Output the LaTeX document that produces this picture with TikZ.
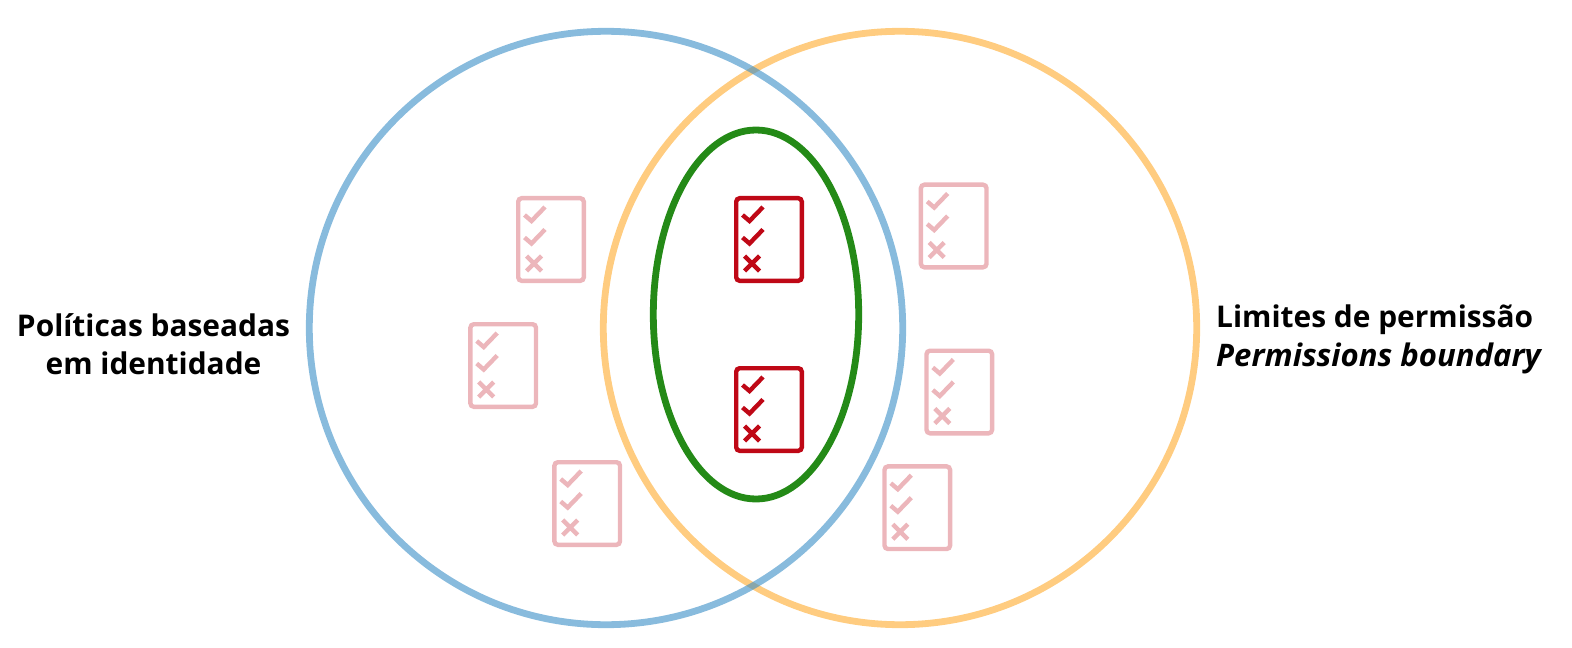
\documentclass[tikz,border=0pt]{standalone}
\usepackage{fontspec}
\usetikzlibrary{shapes.geometric}
\setmainfont{Open Sans}
\definecolor{blueline}{HTML}{398EC6}
\definecolor{orangeline}{HTML}{FFCC80}
\definecolor{greenline}{HTML}{248A17}
\definecolor{docred}{HTML}{BF0816}
\definecolor{docpale}{HTML}{ECB6BB}
\tikzset{
  x=1bp,y=-1bp,
  blueset/.style={draw=blueline,draw opacity=0.6,line width=6.8bp,circle,minimum size=593.4bp,inner sep=0pt},
  orangeset/.style={draw=orangeline,line width=6.8bp,circle,minimum size=593.4bp,inner sep=0pt},
  greenset/.style={draw=greenline,line width=6.8bp,ellipse,minimum width=205.4bp,minimum height=369bp,inner sep=0pt},
  setlabel/.style={font=\bfseries\fontsize{30pt}{38.5pt}\selectfont,inner sep=0pt},
  pics/docicon/.style={code={
    \draw[line width=4.4bp,rounded corners=3.5bp] (2.2,2.2) rectangle (67.8,84.8);
    \draw[line width=4.4bp] (8.5,19) -- (15.5,25) -- (29,11);
    \draw[line width=4.4bp] (8.5,41.5) -- (15.5,47.5) -- (29,33.5);
    \draw[line width=4.4bp] (10.5,60) -- (25.5,75) (25.5,60) -- (10.5,75);
  }}
}
\begin{document}
\begin{tikzpicture}
\useasboundingbox (0,0) rectangle (1572,648);
\node[orangeset] (limite) at (900,328) {};
\node[blueset] (politicas) at (606,328) {};
\node[greenset] (interseccao) at (756,314.5) {};
\pic[color=docred] at (734,196) {docicon};
\pic[color=docred] at (734,366) {docicon};
\pic[color=docpale] at (516,196) {docicon};
\pic[color=docpale] at (468.2,322) {docicon};
\pic[color=docpale] at (552.2,460) {docicon};
\pic[color=docpale] at (918.7,182.5) {docicon};
\pic[color=docpale] at (924.3,348.5) {docicon};
\pic[color=docpale] at (882.3,464.2) {docicon};
\node[setlabel,align=center] (rotuloesq) at (153.5,344.5) {Políticas baseadas\\em identidade};
\node[setlabel,align=left,anchor=west] (rotulodir) at (1216,339.5) {Limites de permissão\\{\fontsize{31.2pt}{38.5pt}\selectfont\textit{Permissions boundary}}};
\end{tikzpicture}
\end{document}
